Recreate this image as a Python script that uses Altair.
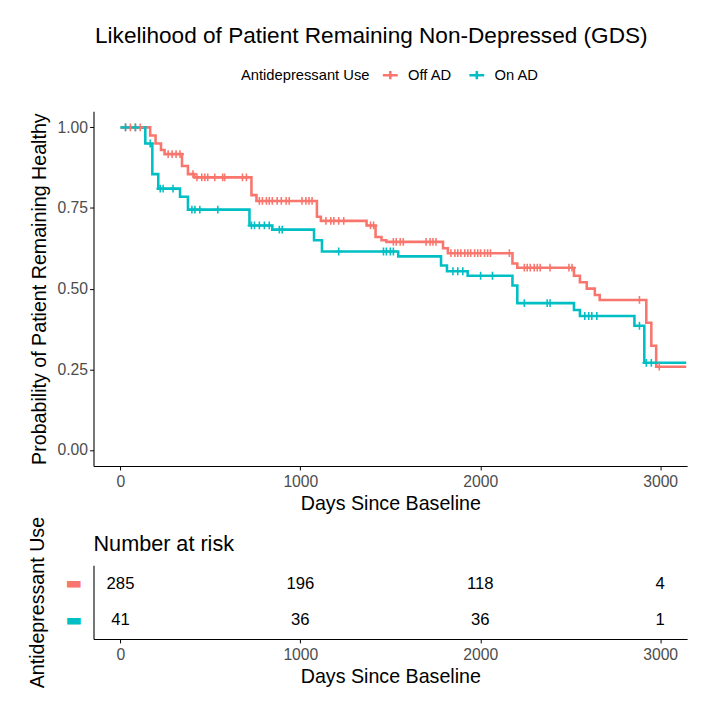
import altair as alt
import pandas as pd

groups = ["Off AD", "On AD"]
colors = ["#F8766D", "#00BFC4"]

# Kaplan-Meier step curves (time in days, survival probability)
off_t = [0, 165, 195, 225, 245, 342, 375, 410, 728, 756, 1092, 1114, 1368, 1418, 1451, 1478,
         1793, 1820, 2179, 2206, 2521, 2554, 2592, 2637, 2664, 2923, 2951, 2978, 3145]
off_s = [1.0, 0.975, 0.95, 0.93, 0.917, 0.88, 0.855, 0.845, 0.79, 0.772, 0.723, 0.71, 0.696, 0.66,
         0.65, 0.645, 0.625, 0.61, 0.578, 0.565, 0.54, 0.52, 0.50, 0.48, 0.465, 0.394, 0.323, 0.258, 0.258]

on_t = [0, 138, 177, 210, 331, 375, 717, 844, 1076, 1120, 1544, 1782, 1815, 1930, 2179, 2206,
        2521, 2554, 2857, 2912, 3145]
on_s = [1.0, 0.95, 0.855, 0.81, 0.785, 0.745, 0.696, 0.683, 0.65, 0.615, 0.60, 0.572, 0.554, 0.54,
        0.51, 0.455, 0.434, 0.415, 0.385, 0.27, 0.27]

# censoring times
off_cens = [28, 55, 83, 110, 265, 287, 309, 331, 403, 425, 452, 469, 485, 524, 568, 579, 678, 700,
            772, 789, 811, 827, 844, 871, 894, 921, 938, 1009, 1031, 1048, 1065,
            1142, 1169, 1186, 1213, 1241, 1390, 1407, 1517, 1533, 1555, 1572, 1699, 1721, 1737, 1754,
            1837, 1859, 1875, 1892, 1914, 1931, 1947, 1969, 1986, 2002, 2024, 2041, 2057, 2162,
            2245, 2261, 2278, 2300, 2317, 2333, 2388, 2493, 2510, 2885, 2995]
on_cens = [28, 83, 165, 221, 237, 292, 397, 414, 441, 541, 728, 745, 772, 800, 827, 883, 899,
           1213, 1462, 1478, 1500, 1517, 1848, 1875, 1903, 2002, 2068, 2245, 2372, 2388,
           2581, 2603, 2620, 2648, 2885, 2923, 2951]

# number at risk table
risk_times = [0, 1000, 2000, 3000]
off_risk = [285, 196, 118, 4]
on_risk = [41, 36, 36, 1]


def surv_at(times, survs, t):
    s = survs[0]
    for ti, si in zip(times, survs):
        if ti <= t:
            s = si
    return s


curve_df = pd.DataFrame(
    [{"time": t, "surv": s, "group": "Off AD"} for t, s in zip(off_t, off_s)]
    + [{"time": t, "surv": s, "group": "On AD"} for t, s in zip(on_t, on_s)]
)
cens_df = pd.DataFrame(
    [{"time": t, "surv": surv_at(off_t, off_s, t), "group": "Off AD"} for t in off_cens]
    + [{"time": t, "surv": surv_at(on_t, on_s, t), "group": "On AD"} for t in on_cens]
)
risk_df = pd.DataFrame(
    [{"time": t, "n": n, "group": "Off AD"} for t, n in zip(risk_times, off_risk)]
    + [{"time": t, "n": n, "group": "On AD"} for t, n in zip(risk_times, on_risk)]
)

FONT = "Liberation Sans"
W = 604
xscale = alt.Scale(domain=[-150, 3150], nice=False, zero=False)
cscale = alt.Scale(domain=groups, range=colors)

xaxis = alt.Axis(values=[0, 1000, 2000, 3000], title="Days Since Baseline", format="d",
                 labelPadding=4, titlePadding=4)

lines = alt.Chart(curve_df).mark_line(interpolate="step-after", strokeWidth=2.6).encode(
    x=alt.X("time:Q", scale=xscale, axis=xaxis),
    y=alt.Y("surv:Q", scale=alt.Scale(domain=[-0.05, 1.05], nice=False),
            axis=alt.Axis(values=[0, 0.25, 0.5, 0.75, 1.0], format=".2f", titlePadding=8,
                          title="Probability of Patient Remaining Healthy")),
    color=alt.Color("group:N", scale=cscale,
                    legend=alt.Legend(title="Antidepressant Use", orient="none",
                                      legendX=150, legendY=-46, direction="horizontal",
                                      titleOrient="left", titleFontSize=15, labelFontSize=15,
                                      titleFontWeight="normal", titleColor="black",
                                      labelColor="black", titleFont=FONT, labelFont=FONT,
                                      symbolType="M-1,0L1,0M0,-0.55L0,0.55",
                                      symbolSize=230, symbolStrokeWidth=2.6,
                                      columnPadding=12, labelOffset=9, titlePadding=12)),
)

cens = alt.Chart(cens_df).mark_point(
    shape="M-1,0L1,0M0,-1L0,1", filled=False, strokeWidth=1.6, size=64, opacity=1
).encode(
    x=alt.X("time:Q", scale=xscale),
    y=alt.Y("surv:Q"),
    color=alt.Color("group:N", scale=cscale, legend=None),
)

km = alt.layer(lines, cens).properties(width=W, height=361)

table = alt.Chart(risk_df).mark_text(fontSize=17, font=FONT, color="black").encode(
    x=alt.X("time:Q", scale=xscale, axis=xaxis),
    y=alt.Y("group:N", sort=groups,
            axis=alt.Axis(title="Antidepressant Use", ticks=False, labelExpr="'\u25ac'",
                          labelFont="DejaVu Sans", labelFontSize=18, labelPadding=12,
                          titlePadding=18,
                          labelColor={"condition": {"test": "datum.value == 'Off AD'",
                                                    "value": colors[0]},
                                      "value": colors[1]})),
    text="n:Q",
).properties(
    width=W, height=75,
    title=alt.TitleParams("Number at risk", anchor="start", frame="group", fontSize=22,
                          fontWeight="normal", color="black", font=FONT, offset=-40),
)

chart = alt.vconcat(km, table, spacing=3).properties(
    title=alt.TitleParams("Likelihood of Patient Remaining Non-Depressed (GDS)", fontSize=23,
                          font=FONT, fontWeight="normal", color="black", anchor="middle",
                          dx=12, offset=18),
    padding={"left": 19, "top": 12, "right": 2, "bottom": 5},
).configure_view(stroke=None).configure_axis(
    grid=False, domainColor="black", domainWidth=1.1, tickColor="black", tickSize=4,
    labelColor="#4d4d4d", labelFontSize=16, labelFont=FONT,
    titleFont=FONT, titleFontSize=20, titleFontWeight="normal", titleColor="black",
).configure_concat(spacing=3)

chart.save("out.html", embed_options={"renderer": "svg", "actions": False})
